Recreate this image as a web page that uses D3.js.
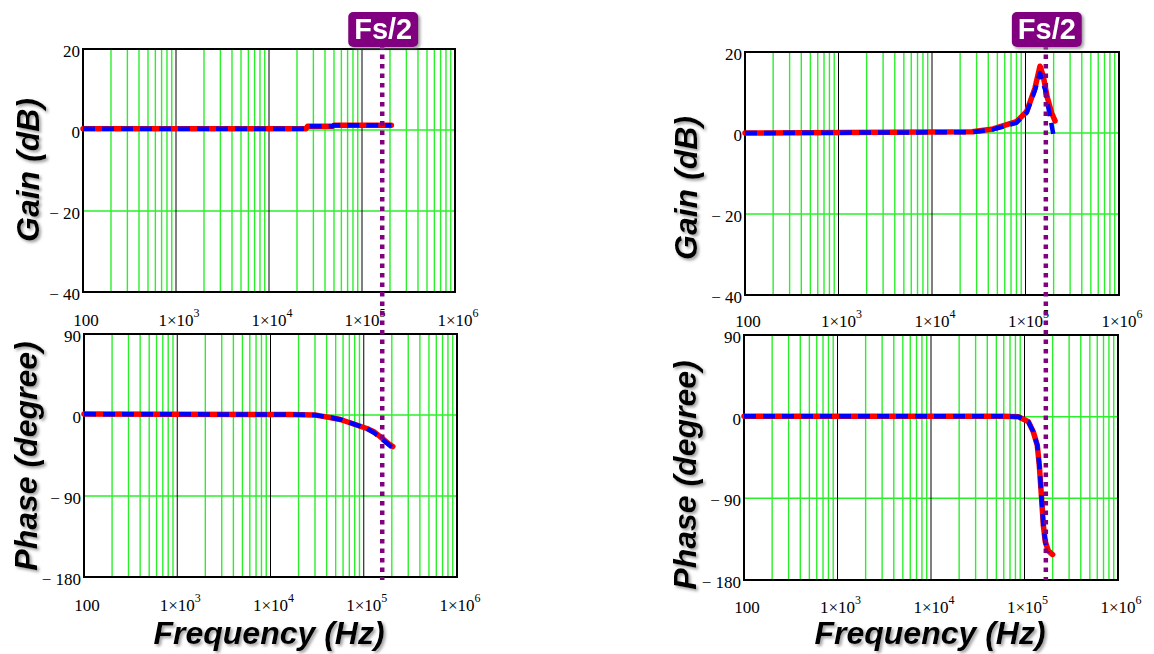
<!DOCTYPE html>
<html>
<head>
<meta charset="utf-8">
<script src="https://cdn.jsdelivr.net/npm/d3@7"></script>
<style>
  body { margin: 0; background: #fff; }
  svg { display: block; }
</style>
</head>
<body>
<div id="chart"></div>
<script>
// ---- data ----
const freqTicks = [100, 1e3, 1e4, 1e5, 1e6];
const freqTickBase = ["100", "1×10", "1×10", "1×10", "1×10"];
const freqTickSup = ["", "3", "4", "5", "6"];
const gainTicks = [20, 0, -20, -40];
const phaseTicks = [90, 0, -90, -180];
const fsHalf = 165e3;

// left: gain (dB)
const leftGainFreq = [100, 25e3, 26e3, 48e3, 50e3, 207e3];
const leftGainRed = [0.3, 0.3, 0.9, 0.9, 1.2, 1.2];
const leftGainBlue = [0.3, 0.3, 0.9, 0.9, 1.2, 1.2];

// left: phase (degree)
const leftPhaseFreq = [100, 16e3, 30e3, 34e3, 45e3, 56e3, 78e3, 108e3, 130e3, 150e3, 180e3, 205e3];
const leftPhaseRed = [1, 0.5, 0, -1, -3, -5, -10, -15, -19, -24, -31, -35];
const leftPhaseBlueFreq = [100, 16e3, 30e3, 34e3, 45e3, 56e3, 78e3, 108e3, 130e3, 150e3, 180e3, 210e3];
const leftPhaseBlue = [1, 0.5, 0, -1, -3, -5, -10, -15, -20, -25, -32, -38];

// right: gain (dB)
const rightGainRedFreq = [100, 27e3, 45e3, 80e3, 103e3, 126e3, 143e3, 155e3, 170e3, 190e3, 207e3];
const rightGainRed = [0, 0.3, 1, 2.8, 5.3, 11, 16.5, 14, 9, 5, 3];
const rightGainBlueFreq = [100, 27e3, 45e3, 80e3, 103e3, 126e3, 143e3, 162e3, 174e3, 190e3, 198e3];
const rightGainBlue = [0, 0.2, 0.9, 2.5, 5, 10.5, 14.8, 10.7, 6.7, 2, -0.2];

// right: phase (degree)
const rightPhaseRedFreq = [100, 60e3, 86e3, 110e3, 124e3, 137e3, 144e3, 149e3, 154e3, 159e3, 167e3, 180e3, 200e3];
const rightPhaseRed = [0.5, 0.5, 0, -5.5, -16.5, -31.5, -53.5, -75.5, -97.5, -119.5, -138, -148, -152];
const rightPhaseBlueFreq = [100, 60e3, 86e3, 110e3, 124e3, 137e3, 144e3, 149e3, 154e3, 159e3, 167e3, 178e3];
const rightPhaseBlue = [0.5, 0.5, 0, -5.5, -16.5, -31.5, -53.5, -75.5, -97.5, -119.5, -138, -150];

const zip = (fs, vs) => fs.map((f, i) => ({ f, v: vs[i] }));

const width = 1154, height = 654;
const serif = "'Liberation Serif', 'Times New Roman', serif";
const sans = "'Liberation Sans', Arial, sans-serif";

const svg = d3.select("#chart").append("svg")
  .attr("width", width).attr("height", height);

const defs = svg.append("defs");
defs.append("filter").attr("id", "shadow")
  .attr("x", "-20%").attr("y", "-20%").attr("width", "140%").attr("height", "140%")
  .append("feDropShadow")
  .attr("dx", 2).attr("dy", 2).attr("stdDeviation", 1.6)
  .attr("flood-color", "#777").attr("flood-opacity", 0.7);
defs.append("clipPath").attr("id", "clipRT")
  .append("rect").attr("x", 600).attr("y", 0).attr("width", 554).attr("height", 327);

function drawPanel(box, yDomain, yTicks, series, labelDy, clip) {
  const x = d3.scaleLog().domain([100, 1e6]).range([box.x0, box.x1]);
  const y = d3.scaleLinear().domain(yDomain).range([box.y1, box.y0]);
  const g = svg.append("g");

  const minor = [];
  for (let d = 100; d < 1e6; d *= 10) for (let k = 2; k <= 9; k++) minor.push(d * k);

  g.append("g").selectAll("line").data(minor).join("line")
    .attr("x1", d => x(d)).attr("x2", d => x(d))
    .attr("y1", box.y0).attr("y2", box.y1)
    .attr("stroke", "#2bef2b").attr("stroke-width", 1.4);

  g.append("g").selectAll("line").data(yTicks.slice(1, -1)).join("line")
    .attr("x1", box.x0).attr("x2", box.x1)
    .attr("y1", d => y(d)).attr("y2", d => y(d))
    .attr("stroke", "#2bef2b").attr("stroke-width", 1.5);

  g.append("g").selectAll("line").data(freqTicks.slice(1, -1)).join("line")
    .attr("x1", d => x(d)).attr("x2", d => x(d))
    .attr("y1", box.y0).attr("y2", box.y1)
    .attr("stroke", "#000").attr("stroke-width", 1);

  g.append("rect")
    .attr("x", box.x0).attr("y", box.y0)
    .attr("width", box.x1 - box.x0).attr("height", box.y1 - box.y0)
    .attr("fill", "none").attr("stroke", "#000").attr("stroke-width", 2);

  const line = d3.line().x(d => x(d.f)).y(d => y(d.v));
  g.append("path").datum(series.red).attr("d", line)
    .attr("fill", "none").attr("stroke", "#ff0000").attr("stroke-width", 5.5)
    .attr("stroke-linecap", "round").attr("stroke-linejoin", "round");
  g.append("path").datum(series.blue).attr("d", line)
    .attr("fill", "none").attr("stroke", "#0000ff").attr("stroke-width", 4.5)
    .attr("stroke-dasharray", "12,7").attr("stroke-linejoin", "round");

  // y tick labels
  g.append("g").selectAll("text").data(yTicks).join("text")
    .attr("x", box.x0 - 3).attr("y", d => y(d) + 4)
    .attr("text-anchor", "end").attr("dominant-baseline", "middle")
    .style("font-family", serif).style("font-size", "17px").attr("fill", "#000")
    .text(d => d < 0 ? "\u2212 " + Math.abs(d) : String(d));

  // x tick labels
  const xl = g.append("g");
  if (clip) xl.attr("clip-path", "url(#clipRT)");
  const t = xl.selectAll("text").data(freqTicks).join("text")
    .attr("x", d => x(d) + 3).attr("y", box.y1 + labelDy)
    .attr("text-anchor", "middle").attr("dominant-baseline", "middle")
    .style("font-family", serif).style("font-size", "17px").attr("fill", "#000");
  t.append("tspan").text((d, i) => freqTickBase[i]);
  t.filter((d, i) => freqTickSup[i] !== "")
    .append("tspan").attr("dy", -8).style("font-size", "12px").text(d => freqTickSup[freqTicks.indexOf(d)]);

  return x;
}

function title(txt, cx, cy, rotate) {
  const g = svg.append("g").attr("filter", "url(#shadow)");
  g.append("text")
    .attr("transform", `translate(${cx},${cy})` + (rotate ? " rotate(-90)" : ""))
    .attr("text-anchor", "middle").attr("dominant-baseline", "middle")
    .style("font-family", sans).style("font-weight", "bold").style("font-style", "italic")
    .style("font-size", "32px").attr("fill", "#000")
    .text(txt);
}

function marker(x, y0, y1) {
  svg.append("line")
    .attr("x1", x).attr("x2", x).attr("y1", y0).attr("y2", y1)
    .attr("stroke", "#800080").attr("stroke-width", 4.5)
    .attr("stroke-dasharray", "4.5,5");
  const b = svg.append("g").attr("filter", "url(#shadow)");
  b.append("rect")
    .attr("x", x - 34).attr("y", 12).attr("width", 70).attr("height", 35).attr("rx", 5)
    .attr("fill", "#800080");
  b.append("text")
    .attr("x", x + 1).attr("y", 31)
    .attr("text-anchor", "middle").attr("dominant-baseline", "middle")
    .style("font-family", sans).style("font-weight", "bold").style("font-size", "29px")
    .attr("fill", "#fff").text("Fs/2");
}

// left column
const xLT = drawPanel({ x0: 83, x1: 455, y0: 49, y1: 292 }, [-40, 20], gainTicks,
  { red: zip(leftGainFreq, leftGainRed), blue: zip(leftGainFreq, leftGainBlue) }, 30, false);
drawPanel({ x0: 84, x1: 457, y0: 334, y1: 577 }, [-180, 90], phaseTicks,
  { red: zip(leftPhaseFreq, leftPhaseRed), blue: zip(leftPhaseBlueFreq, leftPhaseBlue) }, 30, false);

// right column
const xRT = drawPanel({ x0: 745, x1: 1119, y0: 52, y1: 295 }, [-40, 20], gainTicks,
  { red: zip(rightGainRedFreq, rightGainRed), blue: zip(rightGainBlueFreq, rightGainBlue) }, 28, true);
drawPanel({ x0: 744, x1: 1118, y0: 335, y1: 580 }, [-180, 90], phaseTicks,
  { red: zip(rightPhaseRedFreq, rightPhaseRed), blue: zip(rightPhaseBlueFreq, rightPhaseBlue) }, 29, false);

title("Gain (dB)", 31, 170, true);
title("Phase (degree)", 29, 456, true);
title("Frequency (Hz)", 269, 636, false);
title("Gain (dB)", 689, 188, true);
title("Phase (degree)", 688, 475, true);
title("Frequency (Hz)", 930, 636, false);

marker(xLT(fsHalf), 45, 580);
marker(xRT(fsHalf), 45, 580);
</script>
</body>
</html>
